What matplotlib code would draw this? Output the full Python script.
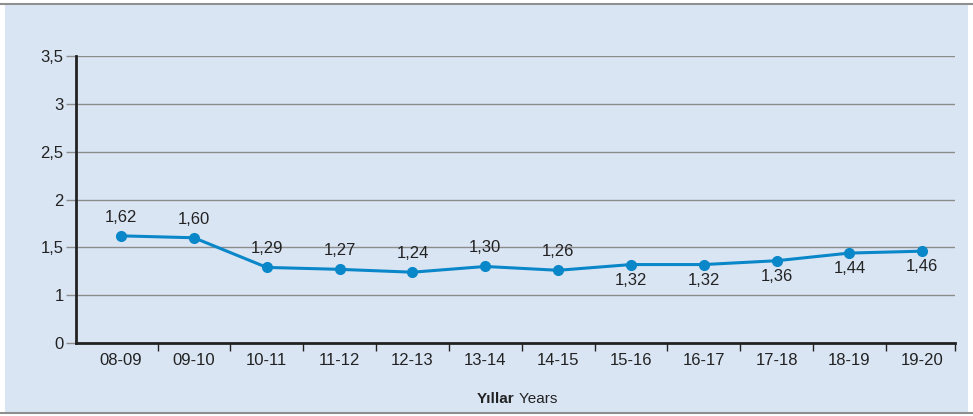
import numpy as np
import matplotlib.pyplot as plt
from matplotlib.patches import Rectangle
from matplotlib.lines import Line2D

years = ['08-09', '09-10', '10-11', '11-12', '12-13', '13-14', '14-15',
         '15-16', '16-17', '17-18', '18-19', '19-20']
values = [1.62, 1.60, 1.29, 1.27, 1.24, 1.30, 1.26, 1.32, 1.32, 1.36, 1.44, 1.46]
label_above = [True, True, True, True, True, True, True,
               False, False, False, False, False]
yticks = [0, 1, 1.5, 2, 2.5, 3, 3.5]

plt.rcParams['font.family'] = ['Liberation Sans', 'DejaVu Sans']

bg = '#dae5f4'
blue = '#0a87c8'
dark = '#222222'

fig = plt.figure(figsize=(9.73, 4.16), dpi=100)
fig.patch.set_facecolor('white')
fig.patches.append(Rectangle((5/973, 3/416), 963/973, 409/416, transform=fig.transFigure,
                             facecolor=bg, edgecolor='none', zorder=-10))
fig.lines.append(Line2D([0, 1], [1 - 4/416, 1 - 4/416], transform=fig.transFigure,
                        color='#8f8f8f', lw=1.5))
fig.lines.append(Line2D([0, 1], [3/416, 3/416], transform=fig.transFigure,
                        color='#8f8f8f', lw=1.5))

ax = fig.add_axes([76/973, (416-343)/416, (955-76)/973, (343-56)/416])
ax.set_facecolor('none')

# axis with 0 -> 1 squeezed into one step, like the original
def fwd(v):
    v = np.asarray(v, dtype=float)
    return np.where(v <= 1, v * 0.5, v - 0.5)

def inv(u):
    u = np.asarray(u, dtype=float)
    return np.where(u <= 0.5, u * 2, u + 0.5)

ax.set_yscale('function', functions=(fwd, inv))
ax.set_ylim(0, 3.5)
ax.set_yticks(yticks)
ax.set_yticklabels([('%g' % t).replace('.', ',') for t in yticks])
ax.yaxis.grid(True, color='#8c8c8c', lw=1)
ax.set_axisbelow(True)

x = np.arange(len(years))
ax.plot(x, values, color=blue, lw=2.2, marker='o', markersize=7, zorder=3,
        clip_on=False)
for xi, v, up in zip(x, values, label_above):
    lab = ('%.2f' % v).replace('.', ',')
    if up:
        ax.annotate(lab, (xi, v), xytext=(0, 8), textcoords='offset points',
                    ha='center', va='bottom', fontsize=12, color=dark)
    else:
        ax.annotate(lab, (xi, v), xytext=(0, -6), textcoords='offset points',
                    ha='center', va='top', fontsize=12, color=dark)

ax.set_xlim(-0.62, 11.45)
ax.set_xticks(x)
ax.set_xticklabels(years)
ax.tick_params(axis='x', which='major', length=0, pad=7, labelsize=12, labelcolor=dark)
ax.set_xticks(list(np.arange(0.5, 11, 1)) + [11.45], minor=True)
ax.tick_params(axis='x', which='minor', length=6, width=1, color=dark)
ax.tick_params(axis='y', length=7, width=1, color='#8c8c8c', labelsize=12,
               labelcolor=dark, pad=2)

for s in ['top', 'right']:
    ax.spines[s].set_visible(False)
ax.spines['left'].set_color(dark)
ax.spines['left'].set_linewidth(2)
ax.spines['bottom'].set_color(dark)
ax.spines['bottom'].set_linewidth(2)

# "Yıllar Years" - bold part then regular part right after it
t1 = fig.text(477/973, 1 - 399/416, 'Yıllar', ha='left', va='center',
              fontsize=11, fontweight='bold', color=dark)
ax.annotate(' Years', xy=(1, 0), xycoords=t1, ha='left', va='bottom',
            fontsize=11, color=dark, annotation_clip=False)

fig.savefig('out.png', dpi=100, facecolor=fig.get_facecolor())
